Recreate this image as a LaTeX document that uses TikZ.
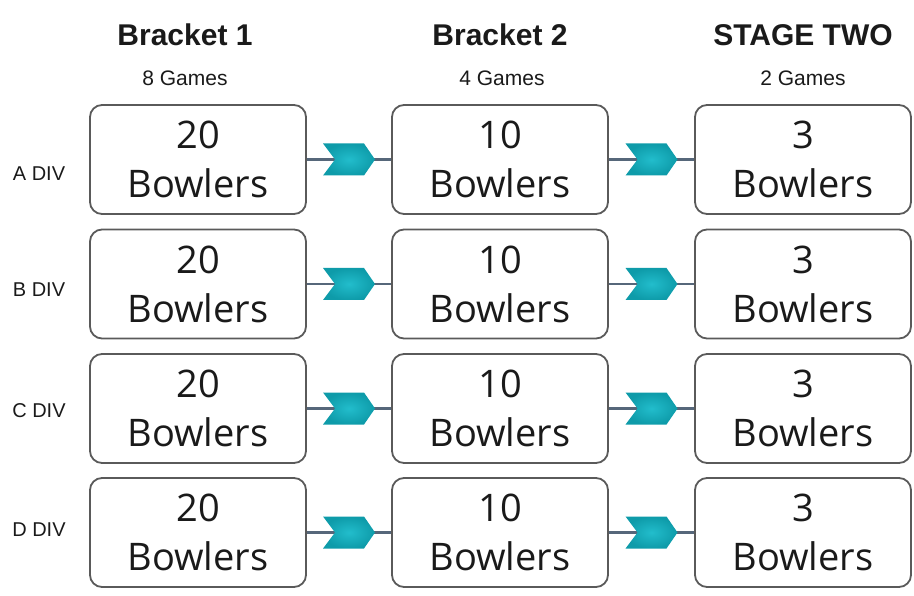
\documentclass[tikz,border=0pt]{standalone}
\usepackage{fontspec}
\setmainfont{Open Sans}
\newfontfamily\hdfont{Liberation Sans}
\usetikzlibrary{calc}
\definecolor{boxline}{HTML}{5A5A5A}
\definecolor{conn}{HTML}{56677A}
\definecolor{tealin}{HTML}{22BDCC}
\definecolor{tealout}{HTML}{0E9BA9}
\definecolor{txt}{HTML}{1A1A1A}
\begin{document}
\begin{tikzpicture}[x=1pt,y=-1pt,
  bbox/.style={draw=boxline, line width=1.8pt, rounded corners=12pt, fill=white,
    minimum width=216pt, minimum height=109pt, align=center, text=txt,
    font=\fontsize{38}{49}\selectfont, inner sep=0pt},
  hd/.style={font=\hdfont\bfseries\fontsize{30}{31}\selectfont, text=txt},
  sub/.style={font=\hdfont\fontsize{21}{23}\selectfont, text=txt},
  div/.style={font=\hdfont\fontsize{20}{22}\selectfont, text=txt},
  link/.style={draw=conn, line width=2.6pt},
  chev/.pic={\shade[inner color=tealin, outer color=tealout]
     (-26,-16) -- (15,-16) -- (26,0) -- (15,16) -- (-26,16) -- (-14,0) -- cycle;}
]
\useasboundingbox (0,0) rectangle (914,596);

\node[hd] (h1) at (185,35) {Bracket 1};
\node[hd] (h2) at (500,35) {Bracket 2};
\node[hd] (h3) at (803,35) {STAGE TWO};
\node[sub] (s1) at (185,78) {8 Games};
\node[sub] (s2) at (502,78) {4 Games};
\node[sub] (s3) at (803,78) {2 Games};

\foreach \r/\y/\ly in {A/159.5/174, B/284/290, C/408.5/411, D/532.5/530}{
  \node[div] (l\r) at (39,\ly) {\r\ DIV};
  \node[bbox] (\r1) at (198,\y) {20\\Bowlers};
  \node[bbox] (\r2) at (500,\y) {10\\Bowlers};
  \node[bbox] (\r3) at (803,\y) {3\\Bowlers};
  \draw[link] (\r1.east) -- (\r2.west);
  \draw[link] (\r2.east) -- (\r3.west);
  \pic at ($(\r1.east)!0.5!(\r2.west)$) {chev};
  \pic at ($(\r2.east)!0.5!(\r3.west)$) {chev};
}
\end{tikzpicture}
\end{document}
